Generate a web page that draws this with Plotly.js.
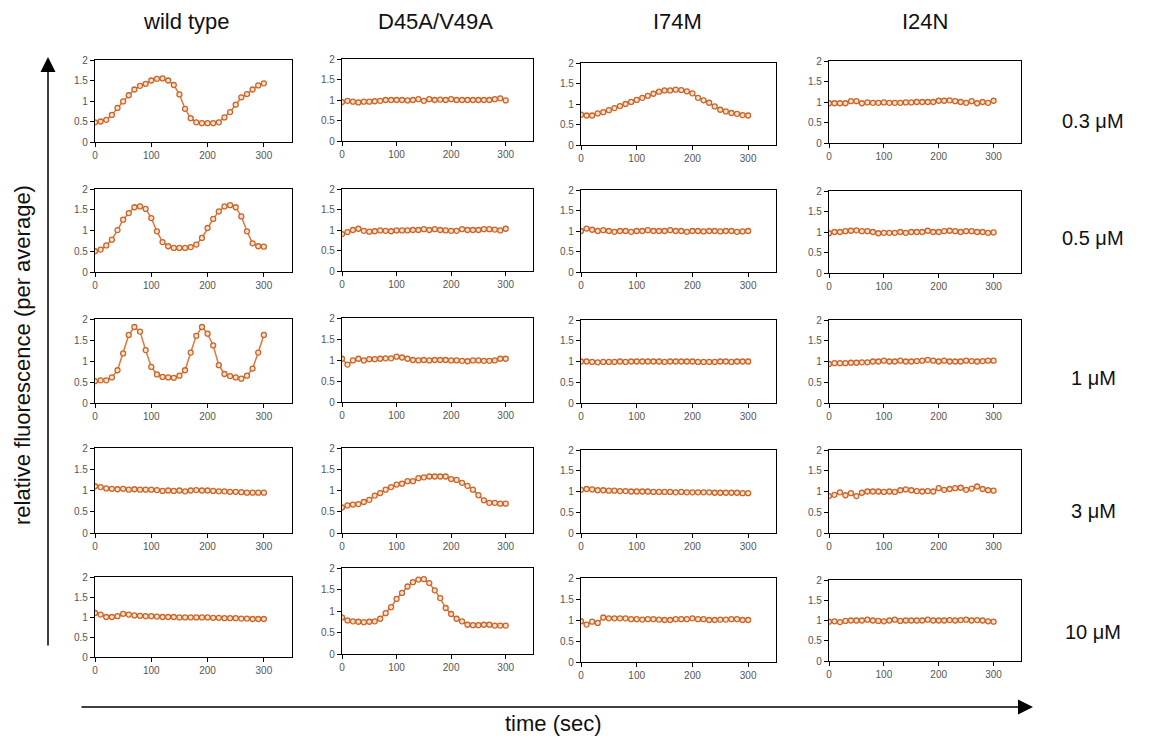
<!DOCTYPE html>
<html>
<head>
<meta charset="utf-8">
<script src="https://cdn.plot.ly/plotly-3.0.1.min.js"></script>
<style>html,body{margin:0;padding:0;background:#fff;}#chart{width:1150px;height:742px;}</style>
</head>
<body>
<div id="chart"></div>
<script>
// ---- categories / labels ----
const genotypes = ["wild type", "D45A/V49A", "I74M", "I24N"];
const concentrations = ["0.3 μM", "0.5 μM", "1 μM", "3 μM", "10 μM"];
const timeSec = [0,10,20,30,40,50,60,70,80,90,100,110,120,130,140,150,160,170,180,190,200,210,220,230,240,250,260,270,280,290,300];
const xTicks = [0, 100, 200, 300];
const yTicks = [0, 0.5, 1, 1.5, 2];
const yTickText = ["0", "0.5", "1", "1.5", "2"];

// ---- series (relative fluorescence per average) ----
// 0.3 uM
const wt_03   = [0.48,0.50,0.54,0.66,0.83,0.99,1.14,1.28,1.37,1.42,1.50,1.54,1.55,1.50,1.39,1.16,0.81,0.58,0.48,0.46,0.46,0.46,0.48,0.60,0.73,0.91,1.09,1.17,1.28,1.38,1.43];
const d45_03  = [0.95,0.98,0.96,0.94,0.96,0.96,0.97,0.98,1.00,1.00,1.00,1.00,0.99,1.00,1.02,0.98,1.02,1.00,1.01,1.00,1.02,1.00,1.00,1.00,1.00,1.00,1.00,1.00,1.02,1.04,0.99];
const i74_03  = [0.74,0.72,0.72,0.77,0.80,0.85,0.90,0.95,1.00,1.05,1.10,1.15,1.20,1.25,1.30,1.33,1.33,1.35,1.34,1.31,1.26,1.15,1.09,1.03,0.94,0.86,0.82,0.78,0.76,0.73,0.72];
const i24_03  = [0.97,0.97,0.97,0.97,1.02,1.02,0.97,0.99,0.98,0.98,0.99,0.98,0.98,0.98,0.99,0.99,1.00,1.00,1.00,1.00,1.03,1.03,1.04,1.02,1.00,0.98,1.02,0.97,1.00,0.98,1.03];
// 0.5 uM
const wt_05   = [0.50,0.54,0.64,0.78,1.01,1.26,1.42,1.56,1.58,1.52,1.30,0.98,0.72,0.62,0.58,0.58,0.58,0.60,0.66,0.82,1.06,1.28,1.46,1.58,1.61,1.56,1.34,0.98,0.69,0.62,0.61];
const d45_05  = [0.90,0.95,1.00,1.03,0.98,0.96,0.97,0.99,0.98,0.97,0.99,0.99,0.99,1.00,1.00,1.02,1.00,1.02,1.00,0.99,0.98,0.98,1.02,1.00,1.00,1.00,1.02,1.02,1.01,0.99,1.03];
const i74_05  = [1.00,1.06,1.03,1.00,1.02,1.00,0.98,1.00,1.00,0.98,1.00,1.00,1.02,1.00,1.00,1.00,1.02,1.00,1.00,0.98,1.00,1.00,0.99,1.00,1.00,0.99,1.00,1.00,0.98,0.99,1.00];
const i24_05  = [0.97,1.00,1.00,1.02,1.03,1.04,1.02,1.02,1.00,0.97,0.98,0.98,0.98,1.00,0.98,1.00,1.00,1.00,1.03,1.00,1.00,1.02,1.03,1.02,1.00,1.02,1.02,1.00,1.00,0.98,0.99];
// 1 uM
const wt_1    = [0.52,0.54,0.54,0.61,0.78,1.18,1.62,1.81,1.70,1.26,0.86,0.68,0.62,0.61,0.60,0.65,0.78,1.20,1.60,1.81,1.65,1.37,0.90,0.69,0.64,0.61,0.58,0.65,0.82,1.20,1.62];
const d45_1   = [1.03,0.89,0.99,1.03,0.99,1.02,1.02,1.03,1.04,1.04,1.08,1.06,1.03,1.00,0.99,1.00,0.99,1.00,1.00,1.00,0.99,0.99,0.98,0.97,0.99,0.99,0.98,0.98,0.99,1.03,1.03];
const i74_1   = [1.00,1.00,0.99,0.98,0.99,0.99,0.99,1.00,0.99,1.00,1.00,1.00,1.00,1.00,1.00,0.99,1.00,1.00,1.00,1.00,1.00,0.99,0.99,0.99,0.99,1.00,1.00,0.99,1.00,1.00,1.00];
const i24_1   = [0.94,0.96,0.96,0.96,0.97,0.97,0.98,0.98,1.00,1.00,1.02,1.00,1.00,1.02,1.00,1.00,1.01,1.02,1.04,1.02,1.00,1.02,1.00,1.00,1.00,1.02,1.01,1.00,1.01,1.02,1.02];
// 3 uM
const wt_3    = [1.10,1.08,1.05,1.04,1.03,1.04,1.02,1.03,1.02,1.02,1.02,1.01,0.99,1.00,0.99,1.00,0.98,1.00,1.01,1.00,1.00,0.99,0.98,0.98,0.97,0.97,0.96,0.95,0.95,0.95,0.95];
const d45_3   = [0.60,0.65,0.67,0.68,0.73,0.78,0.88,0.94,1.02,1.08,1.14,1.16,1.22,1.22,1.29,1.31,1.33,1.33,1.33,1.33,1.27,1.25,1.18,1.11,1.02,0.89,0.77,0.71,0.71,0.69,0.69];
const i74_3   = [1.04,1.06,1.05,1.03,1.03,1.02,1.02,1.01,1.01,1.00,1.00,1.00,1.00,0.99,0.99,0.99,0.99,0.98,0.99,0.98,0.98,0.98,0.98,0.98,0.97,0.97,0.97,0.97,0.97,0.96,0.96];
const i24_3   = [0.89,0.92,0.98,0.91,0.96,0.89,0.97,1.00,1.00,1.00,0.99,1.00,0.99,1.03,1.05,1.03,1.01,1.00,1.01,1.00,1.08,1.04,1.06,1.08,1.09,1.04,1.07,1.12,1.06,1.03,1.02];
// 10 uM
const wt_10   = [1.10,1.06,1.00,1.00,1.02,1.08,1.06,1.04,1.03,1.02,1.02,1.01,1.00,1.00,1.00,0.99,0.99,0.99,0.99,0.99,0.99,0.98,0.98,0.97,0.97,0.97,0.96,0.96,0.95,0.95,0.95];
const d45_10  = [0.85,0.78,0.76,0.75,0.74,0.75,0.76,0.82,0.95,1.09,1.28,1.42,1.57,1.67,1.73,1.74,1.65,1.48,1.30,1.07,0.93,0.82,0.76,0.68,0.67,0.67,0.68,0.68,0.66,0.66,0.66];
const i74_10  = [0.97,0.89,0.96,0.93,1.06,1.04,1.04,1.04,1.04,1.02,1.02,1.01,1.02,1.02,1.01,1.00,1.00,1.02,1.02,1.02,1.04,1.02,1.02,1.00,1.00,1.01,1.01,1.02,1.02,1.00,1.00];
const i24_10  = [0.97,0.98,0.96,0.99,1.00,1.00,1.00,1.02,1.00,0.99,0.98,1.00,1.02,0.99,1.00,1.00,1.00,1.00,1.02,1.00,1.00,1.00,1.01,1.00,1.01,1.02,1.00,1.01,1.00,0.98,0.97];

const seriesGrid = [
  [wt_03, d45_03, i74_03, i24_03],
  [wt_05, d45_05, i74_05, i24_05],
  [wt_1,  d45_1,  i74_1,  i24_1],
  [wt_3,  d45_3,  i74_3,  i24_3],
  [wt_10, d45_10, i74_10, i24_10]
];

// ---- layout geometry (pixels) ----
const W = 1150, H = 742;
const colX = [[95, 292], [342, 533], [581, 776], [829, 1021]];
const rowY = [
  [[60,142],[59,141],[63,145],[61,143]],
  [[189,272],[189,271],[190,272],[191,273]],
  [[319,403],[318,402],[320,403],[320,403]],
  [[448,533],[448,533],[450,533],[450,533]],
  [[577,657],[568,654],[578,662],[580,661]]
];

const FONT = "Arial, 'Liberation Sans', Helvetica, sans-serif";
const lineCol = "#d77a3c";
const markerEdge = "#c8652a";
const markerFill = "#fbe2cd";

const traces = [];
const layout = {
  width: W, height: H,
  margin: {l: 0, r: 0, t: 0, b: 0},
  paper_bgcolor: "#ffffff",
  plot_bgcolor: "#ffffff",
  showlegend: false,
  font: {family: FONT, color: "#000"},
  annotations: [],
  shapes: []
};

let k = 0;
for (let r = 0; r < concentrations.length; r++) {
  for (let c = 0; c < genotypes.length; c++) {
    k++;
    const xa = k === 1 ? "x" : "x" + k;
    const ya = k === 1 ? "y" : "y" + k;
    traces.push({
      type: "scatter", mode: "lines+markers",
      x: timeSec, y: seriesGrid[r][c],
      xaxis: xa, yaxis: ya,
      line: {color: lineCol, width: 1.5},
      marker: {symbol: "circle", size: 5, color: markerFill, line: {color: markerEdge, width: 1.3}},
      hoverinfo: "x+y"
    });
    const [x0, x1] = colX[c];
    const [y0, y1] = rowY[r][c];
    const axCommon = {
      showline: true, mirror: true, linecolor: "#000", linewidth: 1.2,
      ticks: "outside", ticklen: 4, tickwidth: 1, tickcolor: "#000",
      showgrid: false, zeroline: false, fixedrange: true,
      tickfont: {family: FONT, size: 10, color: "#555"}
    };
    layout["xaxis" + (k === 1 ? "" : k)] = Object.assign({}, axCommon, {
      domain: [x0 / W, x1 / W], range: [0, 350],
      tickmode: "array", tickvals: xTicks, ticktext: xTicks.map(String),
      anchor: ya
    });
    layout["yaxis" + (k === 1 ? "" : k)] = Object.assign({}, axCommon, {
      domain: [1 - y1 / H, 1 - y0 / H], range: [0, 2],
      tickmode: "array", tickvals: yTicks, ticktext: yTickText,
      anchor: xa
    });
  }
}

// column titles
const colTitleX = [186, 435, 677, 925];
genotypes.forEach((g, i) => {
  layout.annotations.push({
    text: g, xref: "paper", yref: "paper",
    x: colTitleX[i] / W, y: 1 - 22 / H, xanchor: "center", yanchor: "middle",
    showarrow: false, font: {family: FONT, size: 22, color: "#111"}
  });
});
// row labels
const rowLabelY = [121, 238, 378, 511, 632];
concentrations.forEach((cLab, i) => {
  layout.annotations.push({
    text: cLab, xref: "paper", yref: "paper",
    x: 1093 / W, y: 1 - rowLabelY[i] / H, xanchor: "center", yanchor: "middle",
    showarrow: false, font: {family: FONT, size: 20, color: "#111"}
  });
});
// axis titles
layout.annotations.push({
  text: "relative fluorescence (per average)", xref: "paper", yref: "paper",
  x: 22 / W, y: 1 - 355 / H, xanchor: "center", yanchor: "middle",
  textangle: -90, showarrow: false, font: {family: FONT, size: 22, color: "#111"}
});
layout.annotations.push({
  text: "time (sec)", xref: "paper", yref: "paper",
  x: 553 / W, y: 1 - 723 / H, xanchor: "center", yanchor: "middle",
  showarrow: false, font: {family: FONT, size: 22, color: "#111"}
});
// arrows
layout.annotations.push({
  text: "", xref: "paper", yref: "paper", x: 48 / W, y: 1 - 57 / H,
  axref: "pixel", ayref: "pixel", ax: 0, ay: 590,
  showarrow: true, arrowhead: 2, arrowsize: 2, arrowwidth: 1.5, arrowcolor: "#000"
});
layout.annotations.push({
  text: "", xref: "paper", yref: "paper", x: 1033 / W, y: 1 - 707 / H,
  axref: "pixel", ayref: "pixel", ax: -953, ay: 0,
  showarrow: true, arrowhead: 2, arrowsize: 2, arrowwidth: 1.5, arrowcolor: "#000"
});

Plotly.newPlot("chart", traces, layout, {staticPlot: true, displayModeBar: false});
</script>
</body>
</html>
